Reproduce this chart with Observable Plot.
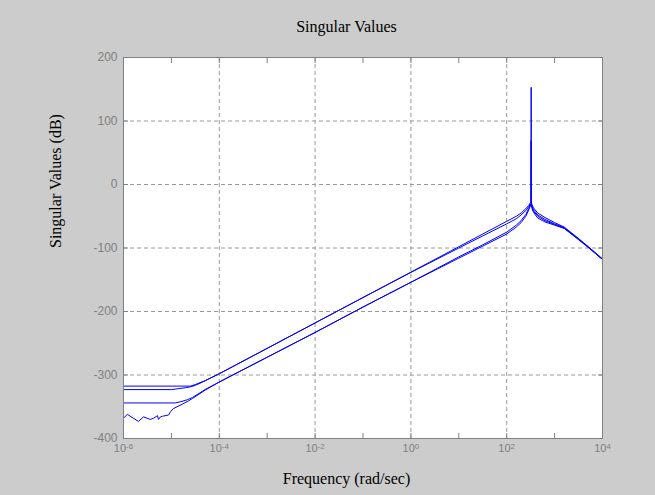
<!DOCTYPE html>
<html><head><meta charset="utf-8">
<script src="https://cdn.jsdelivr.net/npm/d3@7"></script>
<script src="https://cdn.jsdelivr.net/npm/@observablehq/plot@0.6"></script>
<style>
html,body{margin:0;padding:0;background:#cccccc;}
#chart{width:655px;height:495px;}
</style>
</head><body><div id="chart"></div>
<script>
// ---- Text ----
const titleText = "Singular Values";
const xLabelText = "Frequency (rad/sec)";
const yLabelText = "Singular Values (dB)";

// ---- Ticks ----
const xDecadeTicks = [1e-6, 1e-5, 1e-4, 1e-3, 1e-2, 1e-1, 1e0, 1e1, 1e2, 1e3, 1e4];
const xLabelTicks = [1e-6, 1e-4, 1e-2, 1e0, 1e2, 1e4];
const xGridTicks = [1e-4, 1e-2, 1e0, 1e2];
const yTicks = [-400, -300, -200, -100, 0, 100, 200];
const yGridTicks = [-300, -200, -100, 0, 100];

// ---- Series (log10 of frequency, singular value in dB) ----
const sv1LogW = [-6, -4.6, -4.5, -4.3, -4, -3, -2, -1, 0, 1, 1.5, 2, 2.2, 2.3, 2.4, 2.46, 2.5, 2.508, 2.511, 2.514, 2.525, 2.56, 2.65, 2.8, 3, 3.2, 3.5, 3.75, 4];
const sv1Db   = [-317.5, -317.5, -315, -309, -298, -258, -218, -178, -138, -98, -78, -58, -50, -45, -38, -33, -28, -27, 153, -27, -31, -37, -45, -52, -60, -67, -85, -101, -117];

const sv2LogW = [-6, -5, -4.7, -4.56, -4.4, -4, -3, -2, -1, 0, 1, 1.5, 2, 2.2, 2.3, 2.4, 2.46, 2.5, 2.506, 2.509, 2.512, 2.525, 2.56, 2.65, 2.8, 3, 3.2, 3.5, 3.75, 4];
const sv2Db   = [-323, -323, -320, -318, -313, -298, -258, -218, -178, -138.5, -100, -81, -62, -54, -48, -41, -35, -30, -29, 69, -29, -34, -40, -48, -55, -62, -68, -86, -101, -118];

const sv3LogW = [-6, -4.92, -4.8, -4.67, -4.56, -4.3, -4, -3, -2, -1, 0, 1, 1.5, 2, 2.2, 2.3, 2.4, 2.46, 2.5, 2.52, 2.56, 2.65, 2.8, 3, 3.2, 3.5, 3.75, 4];
const sv3Db   = [-344, -344, -342, -339, -335.5, -323, -311, -272, -233, -193, -154, -114, -95, -75, -64, -57, -47, -38, -31, -34, -42, -50, -57, -63, -69, -86, -102, -118];

const sv4LogW = [-6, -5.92, -5.69, -5.58, -5.44, -5.37, -5.29, -5.27, -5.23, -5.19, -5.06, -5.02, -4.96, -4.8, -4.65, -4.56, -4.3, -4, -3, -2, -1, 0, 1, 1.5, 2, 2.2, 2.3, 2.4, 2.46, 2.5, 2.52, 2.56, 2.65, 2.8, 3, 3.2, 3.5, 3.75, 4];
const sv4Db   = [-368, -362, -373, -366, -370, -368, -364, -370, -366, -365, -363, -358, -353, -347, -341, -337, -324, -311, -272, -233, -193, -154, -116, -97, -78, -67, -60, -50, -40, -32, -36, -44, -53, -59, -64, -69, -87, -102, -118];

const series = [
  {name: "sv1", lw: sv1LogW, db: sv1Db},
  {name: "sv2", lw: sv2LogW, db: sv2Db},
  {name: "sv3", lw: sv3LogW, db: sv3Db},
  {name: "sv4", lw: sv4LogW, db: sv4Db}
];
const rows = series.flatMap(s => s.lw.map((l, i) => ({sv: s.name, w: Math.pow(10, l), db: s.db[i]})));

const gray = "#808080";
const gridStyle = {stroke: "#9a9a9a", strokeDasharray: "4,3", strokeWidth: 1};

const chart = Plot.plot({
  width: 655,
  height: 495,
  marginLeft: 123,
  marginRight: 53,
  marginTop: 57,
  marginBottom: 57,
  style: {background: "#cccccc", color: gray, fontFamily: "'Liberation Sans', Arial, sans-serif", fontSize: "12px"},
  x: {type: "log", domain: [1e-6, 1e4], axis: null},
  y: {domain: [-400, 200], axis: null},
  marks: [
    Plot.frame({fill: "white", stroke: null}),
    Plot.ruleX(xGridTicks, gridStyle),
    Plot.ruleY(yGridTicks, gridStyle),
    // inward tick marks on all four sides
    Plot.axisX({ticks: xDecadeTicks, anchor: "bottom", tickSize: 5, dy: -5, tickFormat: () => "", label: null, color: gray}),
    Plot.axisX({ticks: xDecadeTicks, anchor: "top", tickSize: 5, dy: 5, tickFormat: () => "", label: null, color: gray}),
    Plot.axisY({ticks: yTicks, anchor: "left", tickSize: 5, dx: 5, tickFormat: () => "", label: null, color: gray}),
    Plot.axisY({ticks: yTicks, anchor: "right", tickSize: 5, dx: -5, tickFormat: () => "", label: null, color: gray}),
    // tick labels
    Plot.axisX({ticks: xLabelTicks, anchor: "bottom", tickSize: 0, tickPadding: 6, fontSize: 11,
      tickFormat: d => "10^" + Math.round(Math.log10(d)), label: null, color: gray}),
    Plot.axisY({ticks: yTicks, anchor: "left", tickSize: 0, tickPadding: 6, fontSize: 12,
      tickFormat: d => String(d), label: null, color: gray}),
    // data
    Plot.line(rows, {x: "w", y: "db", z: "sv", stroke: "#0000ff", strokeWidth: 1}),
    Plot.frame({stroke: gray}),
    // titles
    Plot.text([titleText], {frameAnchor: "top", lineAnchor: "bottom", dy: -26, dx: -16.5,
      fill: "black", fontSize: 16, fontFamily: "'Liberation Serif', 'Times New Roman', serif"}),
    Plot.text([xLabelText], {frameAnchor: "bottom", lineAnchor: "bottom", dy: 45, dx: -16.5,
      fill: "black", fontSize: 16, fontFamily: "'Liberation Serif', 'Times New Roman', serif"}),
    Plot.text([yLabelText], {frameAnchor: "left", lineAnchor: "middle", rotate: -90, dx: -68,
      fill: "black", fontSize: 16, fontFamily: "'Liberation Serif', 'Times New Roman', serif"})
  ]
});

// superscript exponents on the x tick labels
d3.select(chart).selectAll("text").each(function () {
  const s = this.textContent;
  if (/^10\^-?\d+$/.test(s)) {
    const exp = s.split("^")[1];
    this.textContent = "10";
    d3.select(this).append("tspan").attr("dy", "-0.45em").attr("font-size", "8px").text(exp);
  }
});

document.getElementById("chart").appendChild(chart);
</script></body></html>
